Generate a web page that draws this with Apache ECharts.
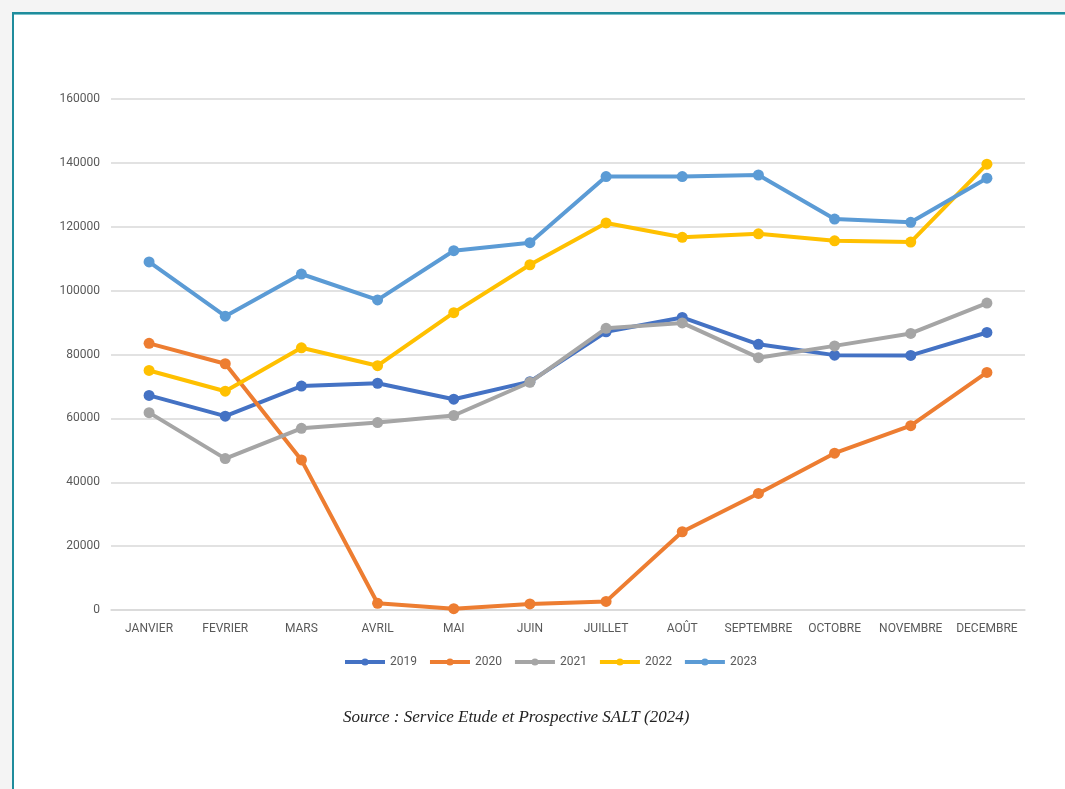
<!DOCTYPE html>
<html>
<head>
<meta charset="utf-8">
<script src="https://cdn.jsdelivr.net/npm/echarts@6/dist/echarts.min.js"></script>
<style>
html,body{margin:0;padding:0;background:#f4f4f4;width:1065px;height:789px;overflow:hidden;}
#frame{position:absolute;left:12px;top:12px;width:1100px;height:800px;background:#fff;border-top:2px solid #1f8c9c;border-left:2px solid #1f8c9c;box-shadow:inset 0 1px 0 #7cc3cc;}
#chart{position:absolute;left:0;top:0;width:1065px;height:789px;}
</style>
</head>
<body>
<div id="frame"></div>
<div id="chart"></div>
<script>
var categories = ['JANVIER','FEVRIER','MARS','AVRIL','MAI','JUIN','JUILLET','AOÛT','SEPTEMBRE','OCTOBRE','NOVEMBRE','DECEMBRE'];
var seriesNames = ['2019','2020','2021','2022','2023'];
var v2019 = [67200, 60700, 70100, 71000, 66000, 71500, 87100, 91600, 83200, 79800, 79700, 86900];
var v2020 = [83500, 77100, 47000, 2100, 400, 1900, 2700, 24500, 36500, 49100, 57700, 74400];
var v2021 = [61800, 47400, 56900, 58700, 60900, 71300, 88200, 89900, 79000, 82700, 86600, 96100];
var v2022 = [75000, 68500, 82100, 76500, 93100, 108100, 121200, 116700, 117800, 115600, 115200, 139600];
var v2023 = [109000, 92000, 105200, 97100, 112500, 115000, 135700, 135700, 136200, 122400, 121400, 135200];
var colors = ['#4472C4','#ED7D31','#A5A5A5','#FFC000','#5B9BD5'];
var yTicks = [0, 20000, 40000, 60000, 80000, 100000, 120000, 140000, 160000];
var sourceText = 'Source : Service Etude et Prospective SALT (2024)';

var allData = [v2019, v2020, v2021, v2022, v2023];
var chart = echarts.init(document.getElementById('chart'), null, {renderer:'canvas'});
var series = allData.map(function(d, i){
  return {
    name: seriesNames[i], type: 'line', data: d,
    symbol: 'circle', symbolSize: 11,
    lineStyle: {width: 4, color: colors[i]},
    itemStyle: {color: colors[i]},
    z: 2 + i
  };
});
chart.setOption({
  animation: false,
  backgroundColor: 'transparent',
  color: colors,
  grid: {left: 111, right: 40, top: 99, bottom: 179, containLabel: false},
  xAxis: {
    type: 'category', data: categories, boundaryGap: true,
    axisLine: {show: true, lineStyle: {color: '#d9d9d9', width: 1.5}},
    axisTick: {show: false},
    axisLabel: {color: '#595959', fontFamily: 'Roboto', fontSize: 12, margin: 13, interval: 0}
  },
  yAxis: {
    type: 'value', min: yTicks[0], max: yTicks[yTicks.length-1], interval: 20000,
    axisLine: {show: false}, axisTick: {show: false},
    splitLine: {lineStyle: {color: '#d9d9d9', width: 1.5}},
    axisLabel: {color: '#595959', fontFamily: 'Roboto', fontSize: 12, margin: 11,
      formatter: function(v){ return String(v); }}
  },
  legend: {
    data: seriesNames, top: 651, left: 338,
    itemWidth: 40, itemHeight: 9, itemGap: 11,
    lineStyle: {width: 4},
    textStyle: {color: '#595959', fontFamily: 'Roboto', fontSize: 12}
  },
  graphic: [{
    type: 'text', left: 343, top: 709,
    style: {text: sourceText, font: 'italic 17px "Liberation Serif", serif', fill: '#222'}
  }],
  series: series
});
</script>
</body>
</html>
